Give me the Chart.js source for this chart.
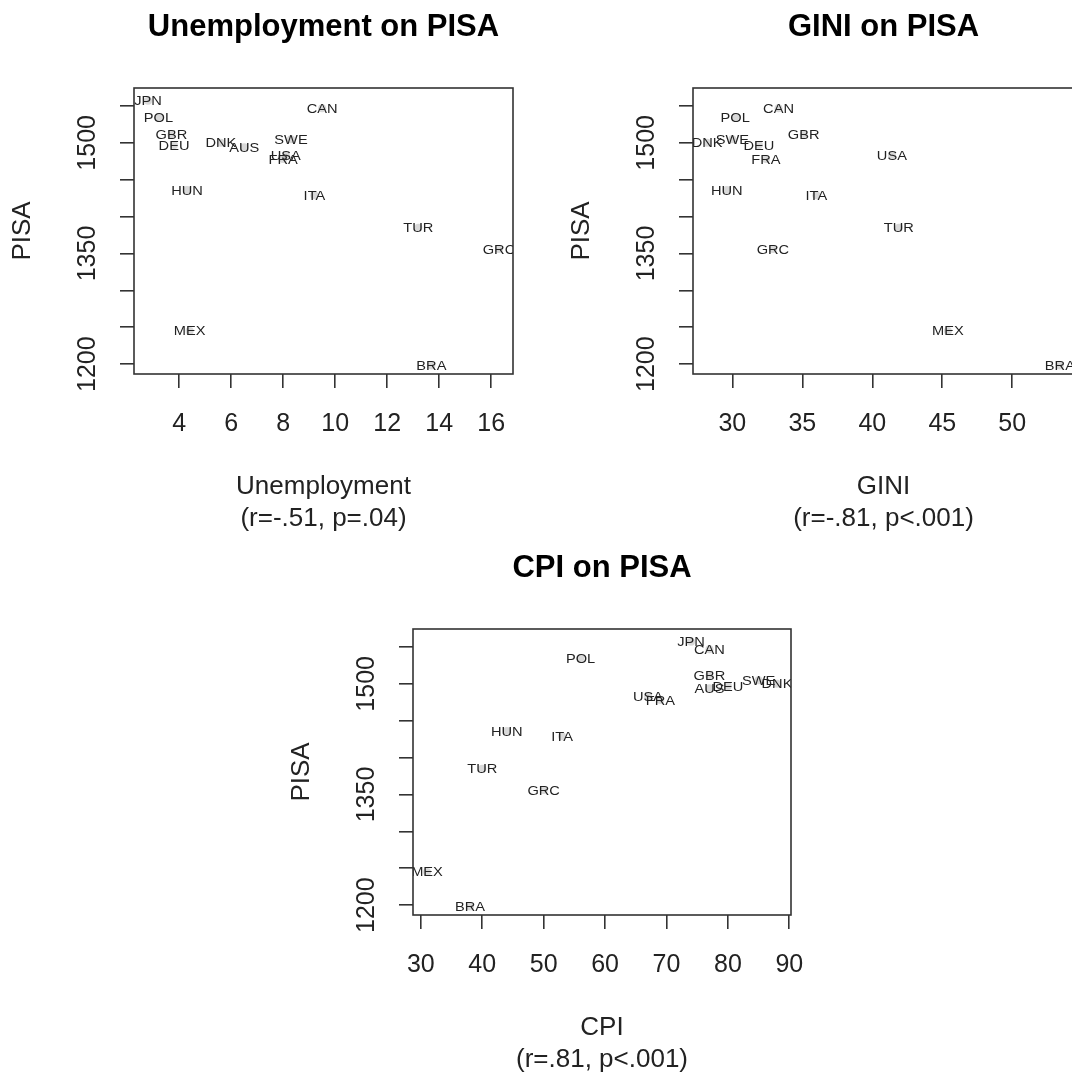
<!DOCTYPE html>
<html><head><meta charset="utf-8">
<script src="https://cdn.jsdelivr.net/npm/chart.js@4.4.1/dist/chart.umd.min.js"></script>
<style>
html,body{margin:0;padding:0;background:#fff;overflow:hidden;width:1072px;height:1072px;position:relative;}
canvas{position:absolute;}
</style></head><body>
<canvas id="c1" width="536" height="536" style="left:0px;top:0px"></canvas>
<canvas id="c2" width="536" height="536" style="left:559px;top:0px"></canvas>
<canvas id="c3" width="536" height="536" style="left:279px;top:541px"></canvas>
<script>
const countries    = ['JPN','CAN','POL','GBR','DEU','DNK','AUS','SWE','USA','FRA','HUN','ITA','TUR','GRC','MEX','BRA'];
const pisa         = [1557, 1547, 1535, 1511, 1497, 1500, 1494, 1505, 1483, 1478, 1436, 1429, 1385, 1356, 1245, 1198];
const unemployment = [2.8, 9.5, 3.2, 3.7, 3.8, 5.6, 6.5, 8.3, 8.1, 8.0, 4.3, 9.2, 13.2, 16.3, 4.4, 13.7];
const gini         = [null, 33.3, 30.2, 35.1, 31.9, 28.2, null, 30.0, 41.4, 32.4, 29.6, 36.0, 41.9, 32.9, 45.4, 53.4];
const cpi          = [74, 77, 56, 77, 80, 88, 77, 85, 67, 69, 44, 53, 40, 50, 31, 38];

const pisaTicks = [1200,1250,1300,1350,1400,1450,1500,1550];
const pisaTickLabels = ['1200','','','1350','','','1500',''];
const unemploymentTicks = [4,6,8,10,12,14,16];
const giniTicks = [30,35,40,45,50];
const cpiTicks = [30,40,50,60,70,80,90];

const panelTitles = ['Unemployment on PISA','GINI on PISA','CPI on PISA'];
const xAxisTitles = [['Unemployment','(r=-.51, p=.04)'],['GINI','(r=-.81, p<.001)'],['CPI','(r=.81, p<.001)']];
const yAxisTitle = 'PISA';
const pisaRange = [1186.64, 1574.36];
const unemploymentRange = [2.26, 16.84];
const giniRange = [27.19, 54.41];
const cpiRange = [28.72, 90.28];

Chart.defaults.font.family = '"Liberation Sans", Arial, sans-serif';
Chart.defaults.color = '#222';

const boxPlugin = {
  id: 'rbox',
  afterDraw(chart, args, opts) {
    const {ctx, chartArea: a} = chart;
    ctx.save();
    ctx.strokeStyle = '#333';
    ctx.lineWidth = 1.6;
    ctx.strokeRect(a.left, a.top, a.right - a.left, a.bottom - a.top);
    ctx.font = 'bold 31px "Liberation Sans", Arial, sans-serif';
    ctx.fillStyle = '#000';
    ctx.textAlign = 'center';
    ctx.textBaseline = 'alphabetic';
    ctx.fillText(opts.text, (a.left + a.right) / 2, a.top - 52.5);
    ctx.restore();
  }
};

const labelPlugin = {
  id: 'ptLabels',
  afterDatasetsDraw(chart) {
    const {ctx, chartArea: a} = chart;
    const meta = chart.getDatasetMeta(0);
    const ds = chart.data.datasets[0].data;
    ctx.save();
    ctx.beginPath();
    ctx.rect(a.left, a.top, a.right - a.left, a.bottom - a.top);
    ctx.clip();
    ctx.font = '12.5px "Liberation Sans", Arial, sans-serif';
    ctx.fillStyle = '#222';
    ctx.textAlign = 'center';
    ctx.textBaseline = 'alphabetic';
    meta.data.forEach((pt, i) => {
      ctx.save();
      ctx.translate(pt.x, pt.y);
      ctx.scale(1.17, 1);
      ctx.fillText(ds[i].label, 0, 4.5);
      ctx.restore();
    });
    ctx.restore();
  }
};

function zeroPad(s) { s.paddingLeft = 0; s.paddingRight = 0; s.paddingTop = 0; s.paddingBottom = 0; }

function makeChart(id, xs, xTicks, xRange, title, xTitle, padRight) {
  const pts = [];
  countries.forEach((c, i) => { if (xs[i] !== null) pts.push({x: xs[i], y: pisa[i], label: c}); });
  return new Chart(document.getElementById(id), {
    type: 'scatter',
    data: {datasets: [{data: pts, pointRadius: 4, pointHoverRadius: 4,
      backgroundColor: 'rgba(128,128,128,0.3)', borderWidth: 0}]},
    options: {
      responsive: false, animation: false, events: [],
      layout: {padding: {left: 0, right: padRight, top: 88, bottom: 0}},
      plugins: {
        legend: {display: false}, tooltip: {enabled: false}, title: {display: false},
        rbox: {text: title}
      },
      scales: {
        x: {
          type: 'linear', min: xRange[0], max: xRange[1],
          afterBuildTicks: s => { s.ticks = xTicks.map(v => ({value: v})); },
          afterFit: s => { s.height = 162; zeroPad(s); },
          ticks: {autoSkip: false, minRotation: 0, maxRotation: 0, padding: 21,
            font: {size: 25}, color: '#222', callback: v => String(v)},
          grid: {display: true, drawOnChartArea: false, drawTicks: true, tickLength: 14,
            color: '#333', lineWidth: 1.6},
          border: {display: false},
          title: {display: true, text: xTitle, font: {size: 26}, color: '#222',
            padding: {top: 0, bottom: 2}}
        },
        y: {
          type: 'linear', min: pisaRange[0], max: pisaRange[1],
          afterBuildTicks: s => { s.ticks = pisaTicks.map(v => ({value: v})); },
          afterFit: s => { s.width = 134; zeroPad(s); },
          ticks: {autoSkip: false, minRotation: 90, maxRotation: 90, crossAlign: 'center',
            padding: 4, font: {size: 25}, color: '#222',
            callback: v => pisaTickLabels[pisaTicks.indexOf(v)] || ''},
          grid: {display: true, drawOnChartArea: false, drawTicks: true, tickLength: 14,
            color: '#333', lineWidth: 1.6},
          border: {display: false},
          title: {display: true, text: yAxisTitle, font: {size: 26}, color: '#222',
            padding: {top: 7, bottom: 0}}
        }
      }
    },
    plugins: [boxPlugin, labelPlugin]
  });
}

makeChart('c1', unemployment, unemploymentTicks, unemploymentRange, panelTitles[0], xAxisTitles[0], 23);
makeChart('c2', gini, giniTicks, giniRange, panelTitles[1], xAxisTitles[1], 21);
makeChart('c3', cpi, cpiTicks, cpiRange, panelTitles[2], xAxisTitles[2], 24);
</script>
</body></html>
